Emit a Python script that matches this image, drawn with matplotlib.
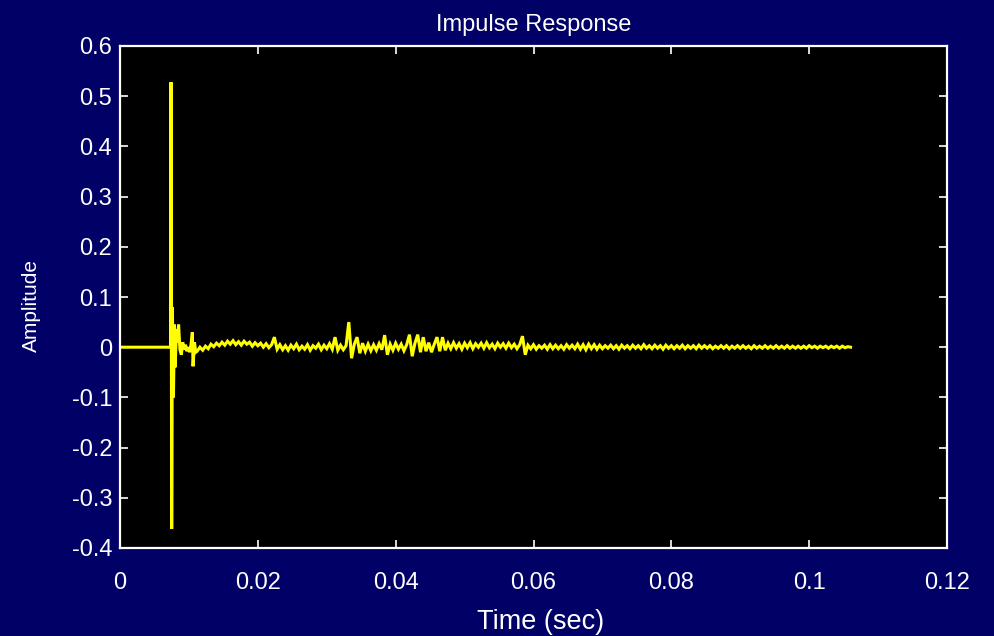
import numpy as np
import matplotlib
matplotlib.use("Agg")
import matplotlib.pyplot as plt

plt.rcParams['font.family'] = ['Liberation Sans', 'DejaVu Sans']
plt.rcParams['axes.unicode_minus'] = False

# ---- data: onset region (seconds, amplitude) ----
head_t = [0.0, 0.00735, 0.00740, 0.00750, 0.00760, 0.00775, 0.00790, 0.00800,
          0.00820, 0.00830, 0.00850, 0.00870, 0.00890, 0.00910, 0.00930,
          0.00950, 0.00970, 0.00990, 0.01010, 0.01030, 0.01050, 0.01060,
          0.01080, 0.01100]
head_amp = [0.0, 0.0, 0.528, -0.362, 0.08, -0.10, 0.045, -0.04,
            0.035, 0.01, 0.045, -0.005, -0.015, 0.01, -0.005,
            0.005, -0.008, 0.0, -0.01, 0.005, 0.03, -0.038,
            0.01, -0.01]

# ---- data: tail, one reading every 0.4 ms from 11.2 ms (amplitude x 1000) ----
tail_start = 0.0112
tail_step = 0.0004
tail_amp_x1000 = [
    -8, 0, -6, 2, -3, 6, 1, 8, 3, 10, 4, 12, 6,
    13, 5, 11, 4, 12, 6, 10, 2, 9, 3, 8, 0, 7, -1, 5,
    20,
    -4, 5, -5, 3, -6, 4, -3, 6, -5, 2, -4, 5, -6, 3, -2, 6, -5, 4, -3, 7, -4,
    20,
    -6, 4, -5, 3,
    50, -22, 6, 20, -12, 8, -8,
    6, -7, 5, -6, 7, -5,
    24, -15,
    6, -6, 8, -4, 6, -7, 5,
    25, -18, 8, 25, -10, 20, -8,
    9, -10, 6,
    20, -8, 20, -6,
    8, -3, 9, -2, 7, -4, 8, -1, 9, -3, 7, 0, 8, -2, 9, -1, 6, -3, 8, 0, 7, -2, 8, -1, 6, -3, 5,
    22, -15,
    4, -3, 5, -4, 3, -2, 4, -4, 5, -3,
    4, -3, 3, -4, 5, -2, 4, -3, 6, -4,
    5, -5, 6, -3, 5, -4, 4, -3, 3, -2,
    4, -3, 3, -4, 4, -2, 3, -3, 4, -2,
    3, -3, 5, -2, 3, -3, 4, -2, 3, -4,
    4, -2, 3, -3, 3, -2, 4, -3, 3, -2,
    3, -3, 4, -2, 3, -2, 3, -3, 2, -2,
    3, -2, 3, -3, 2, -2, 3, -2, 3, -2,
    2, -3, 3, -2, 2, -2, 3, -2, 2, -2,
    3, -2, 2, -2, 3, -2, 2, -2, 2, -2,
    2, -2, 3, -1, 2, -2, 2, -1, 2, -2,
    2, -1, 2, -2, 2, -1, 1, 0,
]

x_ticks = [0, 0.02, 0.04, 0.06, 0.08, 0.1, 0.12]
x_tick_labels = ['0', '0.02', '0.04', '0.06', '0.08', '0.1', '0.12']
y_ticks = [-0.4, -0.3, -0.2, -0.1, 0, 0.1, 0.2, 0.3, 0.4, 0.5, 0.6]
y_tick_labels = ['-0.4', '-0.3', '-0.2', '-0.1', '0', '0.1', '0.2', '0.3', '0.4', '0.5', '0.6']

tail_t = tail_start + tail_step * np.arange(len(tail_amp_x1000))
t = np.concatenate([head_t, tail_t])
amp = np.concatenate([head_amp, np.array(tail_amp_x1000) / 1000.0])

bg = '#000066'
fig = plt.figure(figsize=(9.94, 6.36), dpi=100, facecolor=bg)
ax = fig.add_axes([120 / 994, 1 - 548 / 636, (947 - 120) / 994, (548 - 46) / 636])
ax.set_facecolor('black')
ax.plot(t, amp, color='#FFFF00', lw=2.2, solid_joinstyle='miter')

ax.set_xlim(0, 0.12)
ax.set_ylim(-0.4, 0.6)
ax.set_xticks(x_ticks)
ax.set_xticklabels(x_tick_labels)
ax.set_yticks(y_ticks)
ax.set_yticklabels(y_tick_labels)

for s in ax.spines.values():
    s.set_color('white')
    s.set_linewidth(1.6)
ax.tick_params(axis='both', which='both', direction='in', colors='white',
               length=6, width=1.2, top=True, right=True, labelsize=17)
ax.tick_params(axis='x', pad=17.5)
ax.tick_params(axis='y', pad=5.5)

ax.set_title('Impulse Response', color='white', fontsize=17, pad=11)
ax.set_xlabel('Time (sec)', color='white', fontsize=19.5, labelpad=10.5)
ax.set_ylabel('Amplitude', color='white', fontsize=15, labelpad=22)
ax.xaxis.label.set_x(0.508)
ax.yaxis.label.set_y(0.484)

fig.savefig('out.png', dpi=100, facecolor=bg)
